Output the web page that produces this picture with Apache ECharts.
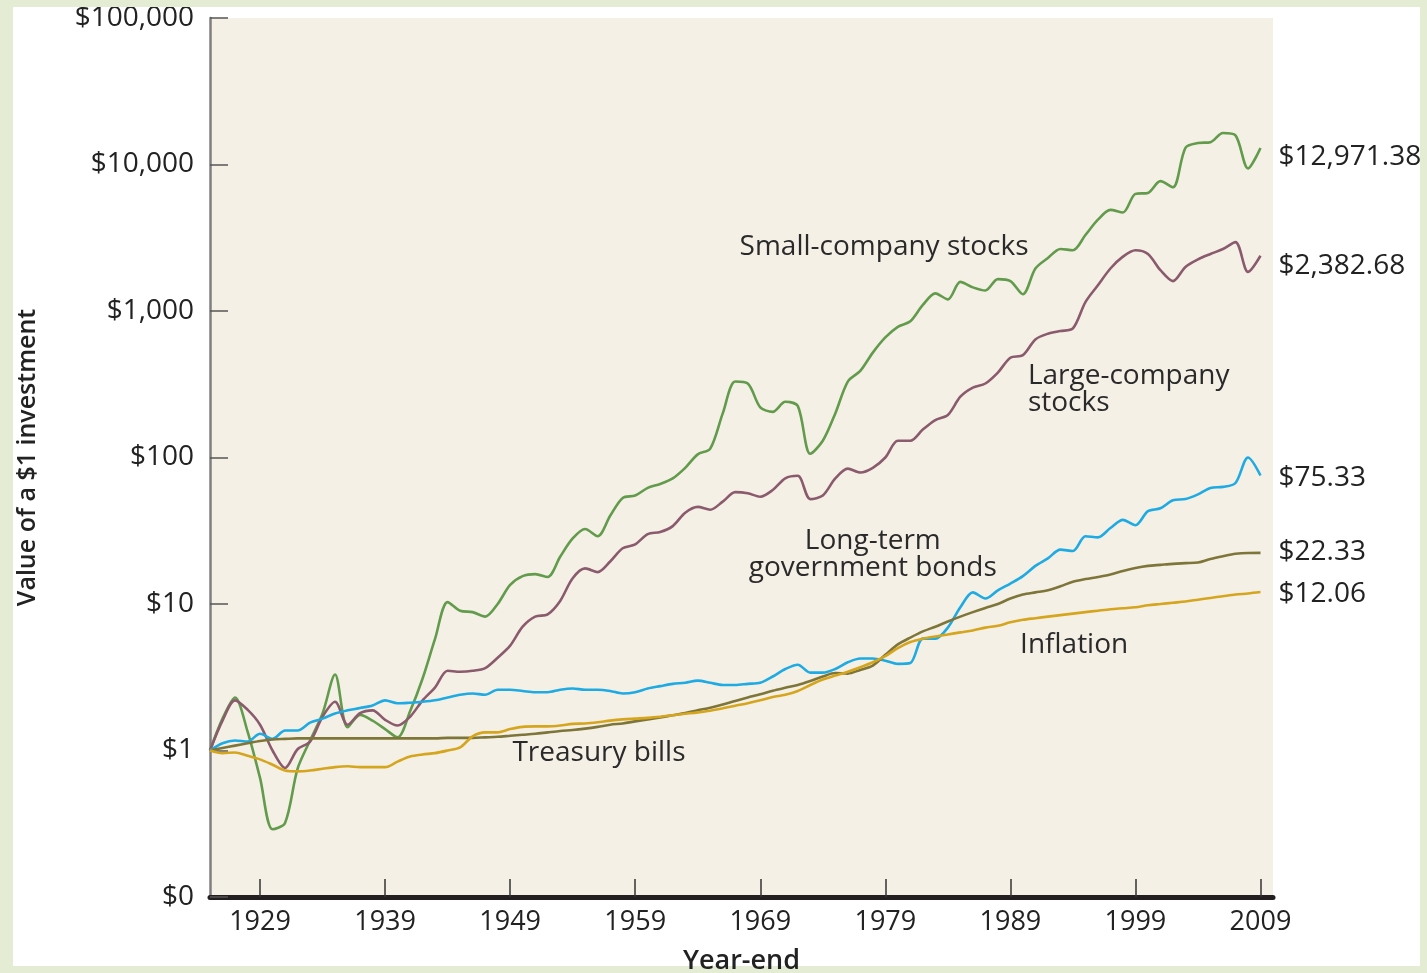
<!DOCTYPE html>
<html>
<head>
<meta charset="utf-8">
<title>Value of a $1 investment</title>
<script src="https://cdn.jsdelivr.net/npm/echarts@6/dist/echarts.min.js"></script>
<style>
html, body { margin: 0; padding: 0; background: #e5ecd4; }
#panel {
  position: absolute;
  left: 13px;
  top: 7px;
  width: 1407px;
  height: 959px;
  background: #fff;
}
#chart_main {
  position: absolute;
  left: 13px;
  top: 7px;
  width: 1407px;
  height: 966px;
}
</style>
</head>
<body>
<div id="panel"></div>
<div id="chart_main"></div>
<script>
// year-end 1925 .. 2009
const years = []
for (let y = 1925; y <= 2009; y++) years.push(y)

const smallStocks = [
  1.00, 1.65, 2.30, 1.35, 0.65, 0.29, 0.32, 0.75, 1.17, 1.79,
  3.30, 1.44, 1.75, 1.60, 1.40, 1.23, 1.85, 3.10, 5.80, 10.3,
  9.00, 8.80, 8.20, 10.0, 13.5, 15.5, 16.0, 15.3, 21.0, 28.0,
  32.5, 29.0, 40.0, 53.0, 55.0, 62.0, 66.0, 72.0, 85.0, 105,
  115, 200, 330, 320, 220, 205, 240, 225, 106, 130,
  200, 330, 390, 520, 660, 780, 850, 1100, 1320, 1200,
  1580, 1450, 1380, 1650, 1600, 1300, 1950, 2300, 2650, 2600,
  3300, 4200, 4900, 4700, 6300, 6400, 7700, 7000, 13000, 14000,
  14200, 16400, 15800, 9400, 12971.38
]

const largeStocks = [
  1.00, 1.60, 2.20, 1.90, 1.50, 1.00, 0.76, 1.02, 1.15, 1.70,
  2.15, 1.50, 1.80, 1.88, 1.62, 1.48, 1.70, 2.20, 2.70, 3.50,
  3.45, 3.50, 3.65, 4.30, 5.20, 7.00, 8.20, 8.50, 10.5, 15.0,
  17.5, 16.5, 19.5, 24.0, 25.5, 30.0, 31.0, 34.0, 42.0, 46.0,
  44.0, 50.0, 58.0, 57.0, 54.0, 60.0, 72.0, 75.0, 52.0, 55.0,
  72.0, 84.0, 79.0, 85.0, 100, 130, 130, 155, 180, 195,
  260, 300, 320, 380, 480, 500, 640, 700, 730, 760,
  1150, 1500, 1950, 2350, 2600, 2450, 1900, 1600, 2000, 2250,
  2450, 2650, 2950, 1850, 2382.68
]

const govBonds = [
  1.00, 1.12, 1.17, 1.15, 1.30, 1.20, 1.37, 1.37, 1.55, 1.65,
  1.79, 1.88, 1.95, 2.03, 2.20, 2.10, 2.12, 2.15, 2.20, 2.30,
  2.40, 2.45, 2.40, 2.60, 2.60, 2.55, 2.50, 2.50, 2.60, 2.65,
  2.60, 2.60, 2.55, 2.45, 2.50, 2.65, 2.75, 2.85, 2.90, 3.00,
  2.90, 2.80, 2.80, 2.85, 2.90, 3.20, 3.60, 3.85, 3.40, 3.40,
  3.60, 4.00, 4.25, 4.25, 4.10, 3.90, 3.95, 5.80, 5.80, 6.90,
  9.50, 12.0, 10.9, 12.4, 13.8, 15.5, 18.2, 20.5, 23.5, 23.0,
  29.0, 28.5, 33.0, 37.5, 34.5, 43.0, 45.0, 51.0, 52.0, 56.0,
  62.0, 63.0, 67.0, 100, 75.33
]

const tBills = [
  1.00, 1.04, 1.08, 1.12, 1.16, 1.19, 1.20, 1.21, 1.21, 1.21,
  1.21, 1.21, 1.21, 1.21, 1.21, 1.21, 1.21, 1.21, 1.21, 1.22,
  1.22, 1.22, 1.23, 1.24, 1.26, 1.28, 1.30, 1.33, 1.36, 1.38,
  1.41, 1.45, 1.50, 1.53, 1.58, 1.63, 1.68, 1.74, 1.80, 1.88,
  1.96, 2.06, 2.18, 2.30, 2.42, 2.56, 2.68, 2.80, 2.98, 3.20,
  3.38, 3.35, 3.55, 3.80, 4.50, 5.30, 5.90, 6.50, 7.00, 7.60,
  8.20, 8.80, 9.40, 10.0, 10.9, 11.6, 12.0, 12.4, 13.2, 14.2,
  14.8, 15.3, 15.9, 16.8, 17.6, 18.2, 18.5, 18.8, 19.0, 19.2,
  20.3, 21.2, 22.0, 22.3, 22.33
]

const inflation = [
  1.00, 0.96, 0.97, 0.92, 0.87, 0.80, 0.73, 0.72, 0.73, 0.75,
  0.77, 0.78, 0.77, 0.77, 0.77, 0.84, 0.91, 0.94, 0.96, 1.00,
  1.05, 1.25, 1.33, 1.33, 1.40, 1.45, 1.46, 1.46, 1.48, 1.52,
  1.53, 1.56, 1.60, 1.63, 1.65, 1.67, 1.70, 1.74, 1.78, 1.82,
  1.87, 1.94, 2.02, 2.10, 2.20, 2.32, 2.40, 2.55, 2.80, 3.05,
  3.25, 3.45, 3.70, 4.00, 4.40, 5.00, 5.50, 5.80, 6.00, 6.20,
  6.40, 6.60, 6.90, 7.10, 7.50, 7.80, 8.00, 8.20, 8.40, 8.60,
  8.80, 9.00, 9.20, 9.35, 9.50, 9.80, 10.0, 10.2, 10.4, 10.7,
  11.0, 11.3, 11.6, 11.8, 12.06
]

// ticks
const yearTicks = [1929, 1939, 1949, 1959, 1969, 1979, 1989, 1999, 2009]
const valueTicks = [0.1, 1, 10, 100, 1000, 10000, 100000]

// end-of-line labels
const endLabels = ['$12,971.38', '$2,382.68', '$75.33', '$22.33', '$12.06']

// series names written inside the plot, and where they sit [year, value]
const seriesNotes = [
  { text: 'Small-company stocks', at: [1978.9, 2712] },
  { text: 'Large-company\nstocks', at: [1990.4, 291] },
  { text: 'Long-term\ngovernment bonds', at: [1978.0, 21.8] },
  { text: 'Treasury bills', at: [1956.1, 0.954] },
  { text: 'Inflation', at: [1994.1, 5.21] }
]

const font = '"Open Sans", "Noto Sans", sans-serif'

function pairs(vals) {
  return years.map((y, i) => [y, vals[i]])
}

function makeSeries(name, vals, color, endText, endDy, note, align) {
  return {
    name: name,
    type: 'line',
    data: pairs(vals),
    smooth: 0.3,
    showSymbol: false,
    lineStyle: { color: color, width: 2.6 },
    itemStyle: { color: color },
    endLabel: {
      show: true,
      formatter: endText,
      distance: 18,
      offset: [0, endDy],
      color: '#222',
      fontFamily: font,
      fontSize: 28
    },
    markPoint: {
      silent: true,
      symbol: 'circle',
      symbolSize: 1,
      itemStyle: { color: 'rgba(0,0,0,0)' },
      label: {
        show: true,
        position: 'inside',
        formatter: note.text,
        align: align || 'center',
        color: '#2a2a2a',
        fontFamily: font,
        fontSize: 28,
        lineHeight: 27
      },
      data: [{ coord: note.at }]
    }
  }
}

const myChart = echarts.init(document.getElementById('chart_main'))

const option = {
  animation: false,
  grid: {
    left: 197,
    right: 147,
    top: 11,
    bottom: 76,
    outerBoundsMode: 'none',
    containLabel: false,
    show: true,
    backgroundColor: '#f5f0e6',
    borderWidth: 0
  },
  xAxis: {
    type: 'value',
    min: 1925,
    max: 2010,
    name: 'Year-end',
    nameLocation: 'middle',
    nameGap: 51,
    nameTextStyle: { color: '#222', fontFamily: font, fontSize: 27, fontWeight: 600 },
    axisLine: { lineStyle: { color: '#231f20', width: 5 } },
    axisTick: {
      inside: true,
      length: 18,
      customValues: yearTicks,
      lineStyle: { color: '#333', width: 1.5 }
    },
    axisLabel: {
      customValues: yearTicks,
      margin: 12,
      color: '#222',
      fontFamily: font,
      fontSize: 27,
      formatter: function (v) {
        return String(v)
      }
    },
    splitLine: { show: false }
  },
  yAxis: {
    type: 'log',
    logBase: 10,
    min: 0.1,
    max: 100000,
    name: 'Value of a $1 investment',
    nameLocation: 'middle',
    nameGap: 170,
    nameTextStyle: { color: '#222', fontFamily: font, fontSize: 25, fontWeight: 600 },
    axisLine: { show: true, lineStyle: { color: '#7f7f7f', width: 2.5 } },
    axisTick: {
      show: true,
      inside: true,
      length: 18,
      customValues: valueTicks,
      lineStyle: { color: '#555', width: 1.5 }
    },
    axisLabel: {
      customValues: valueTicks,
      margin: 16,
      color: '#222',
      fontFamily: font,
      fontSize: 28,
      formatter: function (v) {
        if (v < 1) return '$0'
        return '$' + Math.round(v).toLocaleString('en-US')
      }
    },
    splitLine: { show: false }
  },
  series: [
    makeSeries('Small-company stocks', smallStocks, '#619b4b', endLabels[0], 9, seriesNotes[0]),
    makeSeries('Large-company stocks', largeStocks, '#8a5a6d', endLabels[1], 10, seriesNotes[1], 'left'),
    makeSeries('Long-term government bonds', govBonds, '#1eaae2', endLabels[2], 3, seriesNotes[2]),
    makeSeries('Treasury bills', tBills, '#7e7538', endLabels[3], -1, seriesNotes[3]),
    makeSeries('Inflation', inflation, '#d6a51e', endLabels[4], 2, seriesNotes[4])
  ]
}

myChart.setOption(option)

window.addEventListener('resize', function () {
  myChart.resize()
})
</script>
</body>
</html>
